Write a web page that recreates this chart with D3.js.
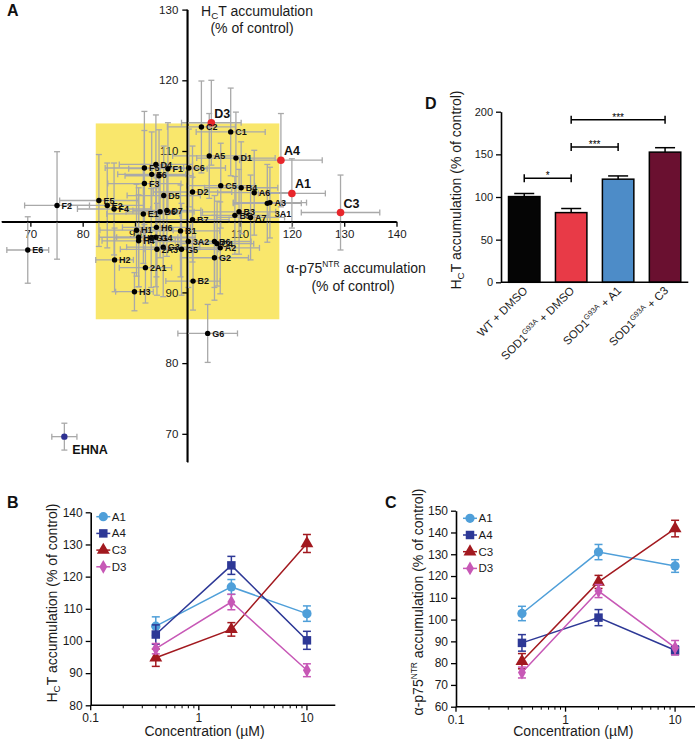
<!DOCTYPE html>
<html><head><meta charset="utf-8">
<script src="https://cdn.jsdelivr.net/npm/d3@7"></script>
<style>body{margin:0;background:#fff}svg{display:block}text{font-family:"Liberation Sans",Arial,sans-serif}</style>
</head><body><svg id="c" width="700" height="744"></svg>
<script>
// ===== Panel A: screen scatter =====
const screenNames = ["D3","C2","C1","A5","D1","A4","D4","F5","F1","C6","F6","","F3","D5","D2","C5","B4","A6","A1","3A1","A3","C3","F2","E5","E2","F4","E1","D6","D7","B7","B3","B5","A7","H1","H6","B1","H5","H4","G1","G4","2A3","G3","G5","3A2","B6","C4","A2","G2","H2","2A1","B2","H3","G6","E6","EHNA"];
const screenX = [104.6,102.7,108.3,104.2,109.3,117.9,94.0,91.8,96.3,100.3,93.2,94.6,91.8,95.5,101.0,106.4,110.3,112.8,120.0,115.3,115.8,129.3,75.1,83.1,84.7,86.0,91.6,94.8,96.1,101.0,109.9,109.1,112.1,90.3,94.1,98.7,90.7,90.7,93.1,94.0,94.2,95.4,98.9,100.2,105.2,105.7,106.3,105.2,86.1,92.0,101.1,89.9,103.9,69.5,76.5];
const screenY = [114.0,113.4,112.7,109.3,109.0,108.7,108.1,107.6,107.5,107.6,106.7,106.5,105.4,103.7,104.2,105.1,104.8,104.1,104.0,102.6,102.7,101.3,102.3,103.0,102.3,101.8,101.1,101.4,101.6,100.3,101.4,100.9,100.6,98.8,99.2,98.7,97.8,97.3,97.7,97.8,96.1,96.4,96.1,97.2,97.2,96.9,96.3,94.9,94.6,93.5,91.6,90.1,84.2,96.0,69.6];
const screenXErr = [5.7,6.5,6.6,7.0,7.5,7.9,7.0,7.5,7.5,7.0,6.5,6.5,7.0,7.0,7.5,6.5,7.0,7.0,6.4,6.5,7.0,7.5,6.2,7.5,7.0,7.0,7.0,6.5,6.5,7.0,7.0,6.5,6.5,7.0,6.5,7.5,7.5,7.0,7.0,7.5,7.0,7.0,7.0,7.5,7.0,7.0,7.5,6.5,3.6,5.0,5.2,3.6,5.7,4.0,2.4];
const screenYErr = [6.0,6.5,6.2,6.0,6.5,6.6,7.0,8.0,6.5,5.5,6.0,6.5,7.5,7.0,6.5,6.0,6.5,6.0,4.9,5.5,5.0,5.3,7.6,6.5,6.0,6.5,7.0,6.5,6.5,6.0,6.0,5.5,6.0,6.5,7.0,6.5,7.0,6.5,7.0,7.0,6.5,7.0,6.5,6.5,6.5,6.0,6.5,6.0,4.5,5.0,4.1,2.7,4.1,4.7,1.9];
const screenType = ["h","n","n","n","n","h","n","n","n","n","n","n","n","n","n","n","n","n","h","n","n","h","n","n","n","n","n","n","n","n","n","n","n","n","n","n","n","n","n","n","n","n","n","n","n","n","n","n","n","n","n","n","n","n","c"];
const xTicksA = [70,80,90,110,120,130,140];
const yTicksA = [70,80,90,110,120,130];
const windowX = [82.5,117.6];
const windowY = [86.2,113.9];

// ===== Panel D: bars =====
const barMain = ["WT + DMSO","SOD1","SOD1","SOD1"];
const barSup = ["","G93A","G93A","G93A"];
const barTail = [""," + DMSO"," + A1"," + C3"];
const barValues = [100.5,81.7,120.9,152.6];
const barErrors = [3.6,4.8,3.8,5.2];
const barColors = ["#050505","#e83a47","#4d8cc8","#6a1030"];
const sigFrom = [0,1,1];
const sigTo = [1,2,3];
const sigLevel = [122,158.5,190.5];
const sigText = ["*","***","***"];
const yTicksD = [0,50,100,150,200];

// ===== Panels B & C: dose response =====
const concs = [0.4,2,10];
const seriesNames = ["A1","A4","C3","D3"];
const seriesColors = ["#4f9fd9","#2d3896","#a2191f","#c758b6"];
const hctA1 = [104.6,116.8,108.5], hctA1Err = [2.9,2.3,2.4];
const hctA4 = [102.0,123.5,100.2], hctA4Err = [3.0,2.8,2.8];
const hctC3 = [94.8,103.6,130.3], hctC3Err = [2.7,2.1,2.8];
const hctD3 = [97.6,112.1,90.9], hctD3Err = [1.6,2.4,2.0];
const p75A1 = [102.8,131.0,124.6], p75A1Err = [3.3,3.5,2.9];
const p75A4 = [89.3,100.9,85.9], p75A4Err = [3.8,3.7,2.0];
const p75C3 = [80.9,117.3,141.8], p75C3Err = [3.5,3.0,3.8];
const p75D3 = [75.7,113.1,87.1], p75D3Err = [2.5,3.0,3.3];
const yTicksB = [80,90,100,110,120,130,140];
const yTicksC = [60,70,80,90,100,110,120,130,140,150];
const majorTicks = [0.1,1,10];
const minorTicks = [0.2,0.3,0.4,0.5,0.6,0.7,0.8,0.9,2,3,4,5,6,7,8,9];

const svg = d3.select("#c");

function styleAxis(g, fs){
  g.select(".domain").attr("stroke","#000").attr("stroke-width",1.6);
  g.selectAll(".tick line").attr("stroke","#000").attr("stroke-width",1.3);
  g.selectAll(".tick text").attr("font-size",fs).attr("fill","#1a1a1a").attr("font-family",'"Liberation Sans",Arial,sans-serif');
}
function hct(t, x, y, fs, anchor, extra){
  t.attr("x",x).attr("y",y).attr("font-size",fs).attr("text-anchor",anchor||"start").attr("fill","#1a1a1a");
  t.append("tspan").text("H");
  t.append("tspan").attr("font-size",fs*0.7).attr("dy",fs*0.22).text("C");
  t.append("tspan").attr("dy",-fs*0.22).text("T " + (extra||""));
}
function p75(t, x, y, fs, anchor, extra){
  t.attr("x",x).attr("y",y).attr("font-size",fs).attr("text-anchor",anchor||"start").attr("fill","#1a1a1a");
  t.append("tspan").text("\u03b1-p75");
  t.append("tspan").attr("font-size",fs*0.6).attr("dy",-fs*0.45).text("NTR");
  t.append("tspan").attr("dy",fs*0.45).text(extra);
}

// ---------- Panel A ----------
{
  const g = svg.append("g");
  const x = d3.scaleLinear().domain([64.5,140]).range([1.6,396.5]);
  const y = d3.scaleLinear().domain([66,130]).range([462.1,9.6]);
  g.append("rect").attr("x",x(windowX[0])).attr("y",y(windowY[1]))
    .attr("width",x(windowX[1])-x(windowX[0])).attr("height",y(windowY[0])-y(windowY[1]))
    .attr("fill","#f9e76c");
  const ax = g.append("g").attr("transform",`translate(0,${y(100)})`)
    .call(d3.axisBottom(x).tickValues(xTicksA).tickSize(5).tickSizeOuter(0).tickPadding(3));
  styleAxis(ax, 11.5);
  const ay = g.append("g").attr("transform",`translate(${x(100)},0)`)
    .call(d3.axisLeft(y).tickValues(yTicksA).tickSize(5).tickSizeOuter(0).tickPadding(4));
  styleAxis(ay, 11.5);
  const pts = screenNames.map((n,i)=>({n, x:screenX[i], y:screenY[i], ex:screenXErr[i], ey:screenYErr[i], t:screenType[i]}));
  const eb = g.append("g").attr("stroke","#a9a9a9").attr("stroke-width",1.3).attr("fill","none");
  const cap = 3;
  pts.forEach(p=>{
    const px=x(p.x), py=y(p.y);
    const x0=x(p.x-p.ex), x1=x(p.x+p.ex), y0=y(p.y-p.ey), y1=y(p.y+p.ey);
    eb.append("line").attr("x1",x0).attr("x2",x1).attr("y1",py).attr("y2",py);
    eb.append("line").attr("x1",x0).attr("x2",x0).attr("y1",py-cap).attr("y2",py+cap);
    eb.append("line").attr("x1",x1).attr("x2",x1).attr("y1",py-cap).attr("y2",py+cap);
    eb.append("line").attr("x1",px).attr("x2",px).attr("y1",y0).attr("y2",y1);
    eb.append("line").attr("x1",px-cap).attr("x2",px+cap).attr("y1",y0).attr("y2",y0);
    eb.append("line").attr("x1",px-cap).attr("x2",px+cap).attr("y1",y1).attr("y2",y1);
  });
  g.append("line").attr("x1",x(64.5)).attr("x2",x(140)).attr("y1",y(100)).attr("y2",y(100)).attr("stroke","#000").attr("stroke-width",1.6);
  g.append("line").attr("x1",x(100)).attr("x2",x(100)).attr("y1",y(66)).attr("y2",y(130)).attr("stroke","#000").attr("stroke-width",1.6);
  const colorOf = t => t==="h" ? "#e8262b" : (t==="c" ? "#2e3192" : "#000");
  const rOf = t => t==="h" ? 3.8 : (t==="c" ? 3.2 : 2.7);
  g.selectAll("circle.pt").data(pts).join("circle").attr("class","pt")
    .attr("cx",d=>x(d.x)).attr("cy",d=>y(d.y)).attr("r",d=>rOf(d.t)).attr("fill",d=>colorOf(d.t));
  const nudge = {"3A1":[3,10]};
  g.selectAll("text.lab").data(pts.filter(d=>d.n!=="")).join("text").attr("class","lab")
    .attr("x",d=> x(d.x) + (d.t==="h"?3:(d.t==="c"?8:4.5)) + (nudge[d.n]?nudge[d.n][0]:0))
    .attr("y",d=> y(d.y) + (d.t==="h"?-5:(d.t==="c"?17:3.3)) + (nudge[d.n]?nudge[d.n][1]:0))
    .attr("font-size",d=> d.t==="n"?9:12.5).attr("font-weight","bold").attr("fill","#111")
    .text(d=>d.n);
  hct(g.append("text"), 257, 15.5, 14, "middle", "accumulation");
  g.append("text").attr("x",252).attr("y",32.5).attr("font-size",14).attr("text-anchor","middle").attr("fill","#1a1a1a").text("(% of control)");
  p75(g.append("text"), 356, 273, 14, "middle", " accumulation");
  g.append("text").attr("x",353).attr("y",291).attr("font-size",14).attr("text-anchor","middle").attr("fill","#1a1a1a").text("(% of control)");
  g.append("text").attr("x",7).attr("y",16).attr("font-size",16).attr("font-weight","bold").attr("fill","#111").text("A");
}

// ---------- Panel D ----------
{
  const g = svg.append("g");
  const x = d3.scaleBand().domain(d3.range(barValues.length)).range([501,688.3]).paddingInner(0.33).paddingOuter(0.16);
  const y = d3.scaleLinear().domain([0,200]).range([282.3,111.7]);
  const bw = x.bandwidth();
  barValues.forEach((v,i)=>{
    const cx = x(i)+bw/2;
    g.append("line").attr("x1",cx).attr("x2",cx).attr("y1",y(v)).attr("y2",y(v+barErrors[i])).attr("stroke","#000").attr("stroke-width",1.5);
    g.append("line").attr("x1",cx-10).attr("x2",cx+10).attr("y1",y(v+barErrors[i])).attr("y2",y(v+barErrors[i])).attr("stroke","#000").attr("stroke-width",1.5);
    g.append("rect").attr("x",x(i)).attr("y",y(v)).attr("width",bw).attr("height",y(0)-y(v))
      .attr("fill",barColors[i]).attr("stroke","#000").attr("stroke-width",1.5);
  });
  const ay = g.append("g").attr("transform","translate(501,0)")
    .call(d3.axisLeft(y).tickValues(yTicksD).tickSize(5).tickSizeOuter(0).tickPadding(3));
  styleAxis(ay, 11);
  g.append("line").attr("x1",501).attr("x2",688.3).attr("y1",y(0)).attr("y2",y(0)).attr("stroke","#000").attr("stroke-width",1.6);
  sigFrom.forEach((f,i)=>{
    const a = x(f)+bw/2, b = x(sigTo[i])+bw/2, yy = y(sigLevel[i]);
    g.append("line").attr("x1",a).attr("x2",b).attr("y1",yy).attr("y2",yy).attr("stroke","#000").attr("stroke-width",1.5);
    [a,b].forEach(e=>g.append("line").attr("x1",e).attr("x2",e).attr("y1",yy-4).attr("y2",yy+4).attr("stroke","#000").attr("stroke-width",1.5));
    g.append("text").attr("x",(a+b)/2).attr("y",yy+1).attr("text-anchor","middle").attr("font-size",10).attr("fill","#000").text(sigText[i]);
  });
  barMain.forEach((m,i)=>{
    const cx = x(i)+bw/2+4;
    const t = g.append("text").attr("transform",`translate(${cx},${y(0)+9}) rotate(-45)`).attr("text-anchor","end").attr("font-size",11.5).attr("fill","#1a1a1a");
    t.append("tspan").text(m);
    if (barSup[i]) {
      t.append("tspan").attr("font-size",7.5).attr("dy",-4.5).text(barSup[i]);
      t.append("tspan").attr("dy",4.5).text(barTail[i]);
    }
  });
  const yl = g.append("text").attr("transform","translate(461,190) rotate(-90)");
  hct(yl, 0, 0, 14, "middle", "accumulation (% of control)");
  g.append("text").attr("x",425).attr("y",109).attr("font-size",16).attr("font-weight","bold").attr("fill","#111").text("D");
}

// ---------- Panels B & C ----------
function dosePanel(cfg){
  const g = svg.append("g");
  const x = d3.scaleLog().domain(cfg.xDomain).range(cfg.xRange);
  const y = d3.scaleLinear().domain(cfg.yDomain).range(cfg.yRange);
  const y0 = cfg.yRange[0];
  g.append("line").attr("x1",cfg.xRange[0]).attr("x2",cfg.xRange[1]).attr("y1",y0).attr("y2",y0).attr("stroke","#000").attr("stroke-width",1.5);
  majorTicks.forEach(v=>{
    g.append("line").attr("x1",x(v)).attr("x2",x(v)).attr("y1",y0).attr("y2",y0+5).attr("stroke","#000").attr("stroke-width",1.3);
    g.append("text").attr("x",x(v)).attr("y",y0+17).attr("text-anchor","middle").attr("font-size",12).attr("fill","#1a1a1a").text(String(v));
  });
  minorTicks.forEach(v=>{
    g.append("line").attr("x1",x(v)).attr("x2",x(v)).attr("y1",y0).attr("y2",y0+3).attr("stroke","#000").attr("stroke-width",1);
  });
  const ay = g.append("g").attr("transform",`translate(${cfg.xRange[0]},0)`)
    .call(d3.axisLeft(y).tickValues(cfg.yTicks).tickSize(5).tickSizeOuter(0).tickPadding(3));
  styleAxis(ay, 12);
  const shapes = [d3.symbolCircle,d3.symbolSquare,d3.symbolTriangle,d3.symbolDiamond];
  const sizes = [68,72,72,55];
  cfg.series.forEach((s,k)=>{
    const col = seriesColors[k];
    const line = d3.line().x((d,i)=>x(concs[i])).y(d=>y(d));
    g.append("path").attr("d",line(s.v)).attr("fill","none").attr("stroke",col).attr("stroke-width",1.5);
    s.v.forEach((v,i)=>{
      const cx = x(concs[i]);
      const a = y(v - s.e[i]), b = y(v + s.e[i]);
      g.append("line").attr("x1",cx).attr("x2",cx).attr("y1",a).attr("y2",b).attr("stroke",col).attr("stroke-width",1.5);
      [a,b].forEach(e=>g.append("line").attr("x1",cx-4).attr("x2",cx+4).attr("y1",e).attr("y2",e).attr("stroke",col).attr("stroke-width",1.5));
    });
    s.v.forEach((v,i)=>{
      g.append("path").attr("transform",`translate(${x(concs[i])},${y(v)})`)
        .attr("d",d3.symbol(shapes[k],sizes[k])()).attr("fill",col);
    });
    const ly = cfg.legY + k*16.7;
    g.append("line").attr("x1",cfg.legX-7).attr("x2",cfg.legX+7).attr("y1",ly).attr("y2",ly).attr("stroke",col).attr("stroke-width",1.5);
    g.append("path").attr("transform",`translate(${cfg.legX},${ly})`).attr("d",d3.symbol(shapes[k],sizes[k])()).attr("fill",col);
    g.append("text").attr("x",cfg.legX+8.5).attr("y",ly+4).attr("font-size",11.5).attr("fill","#1a1a1a").text(seriesNames[k]);
  });
  g.append("text").attr("x",cfg.xLabelX).attr("y",736).attr("text-anchor","middle").attr("font-size",14).attr("fill","#1a1a1a").text("Concentration (\u00b5M)");
  const yl = g.append("text").attr("transform",`translate(${cfg.yLabelX},${cfg.yLabelY}) rotate(-90)`);
  cfg.yLabel(yl);
  g.append("text").attr("x",cfg.letterX).attr("y",508).attr("font-size",16).attr("font-weight","bold").attr("fill","#111").text(cfg.letter);
}

dosePanel({
  xDomain:[0.1,18.3], xRange:[90.7,335.3], yDomain:[80,140], yRange:[705.3,512.3], yTicks:yTicksB,
  series:[{v:hctA1,e:hctA1Err},{v:hctA4,e:hctA4Err},{v:hctC3,e:hctC3Err},{v:hctD3,e:hctD3Err}],
  legX:103.3, legY:516.7, xLabelX:204.5, yLabelX:57, yLabelY:603, letterX:7, letter:"B",
  yLabel: t=>hct(t,0,0,14,"middle","accumulation (% of control)")
});
dosePanel({
  xDomain:[0.1,15.2], xRange:[456,695], yDomain:[60,150], yRange:[706.7,510.7], yTicks:yTicksC,
  series:[{v:p75A1,e:p75A1Err},{v:p75A4,e:p75A4Err},{v:p75C3,e:p75C3Err},{v:p75D3,e:p75D3Err}],
  legX:470, legY:518.3, xLabelX:573.3, yLabelX:423, yLabelY:602, letterX:385, letter:"C",
  yLabel: t=>p75(t,0,0,14,"middle"," accumulation (% of control)")
});
</script></body></html>
